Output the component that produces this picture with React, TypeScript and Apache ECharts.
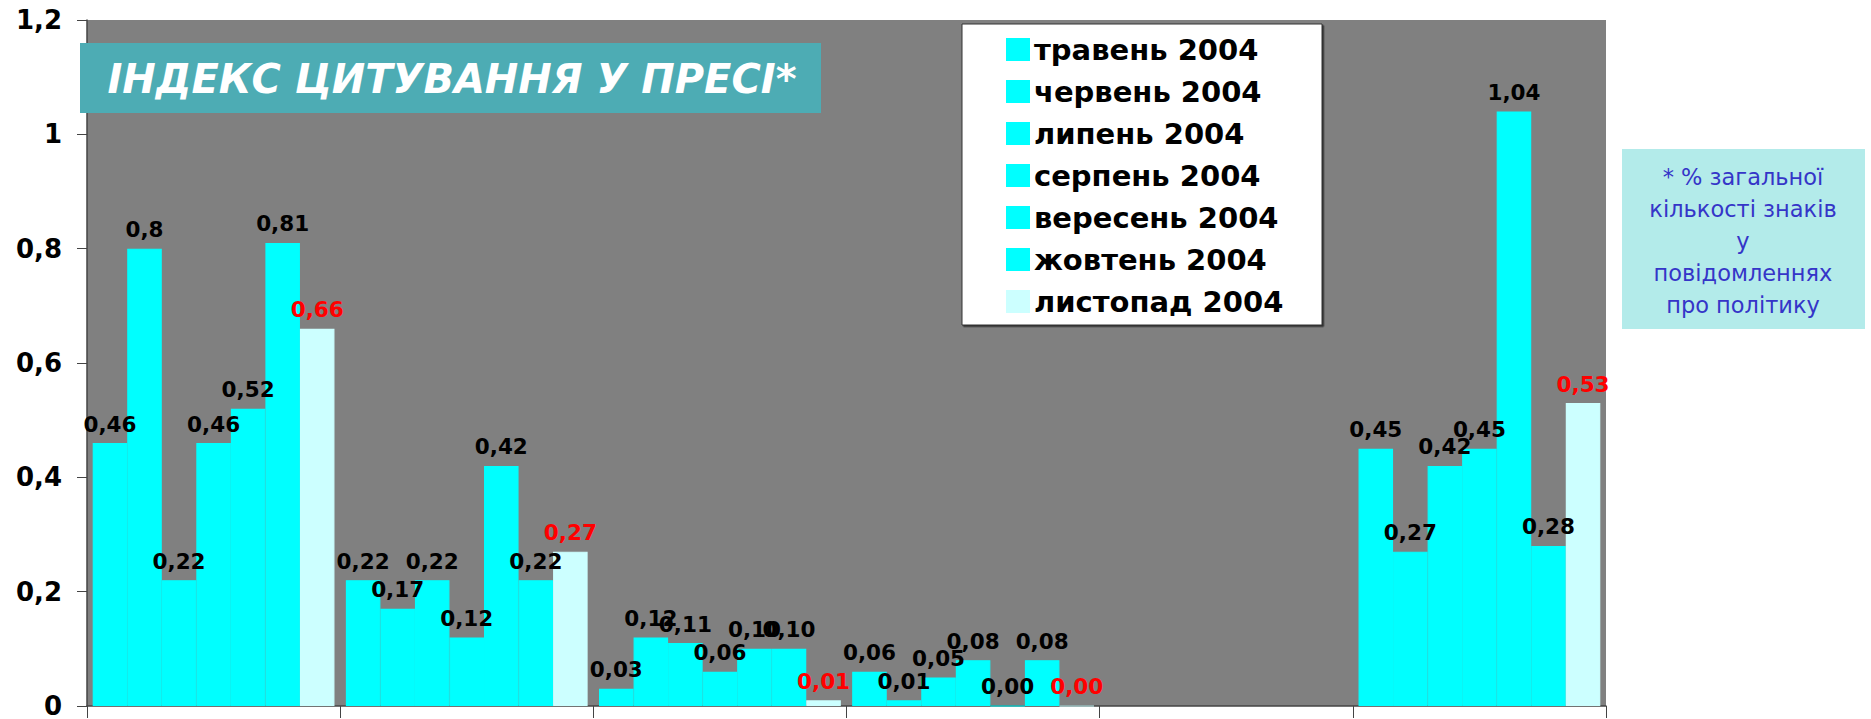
import React, { useEffect, useRef } from "react";
import * as echarts from "echarts";

const categories = ["1", "2", "3", "4", "5", "6"];
const seriesNames = [
  "травень 2004",
  "червень 2004",
  "липень 2004",
  "серпень 2004",
  "вересень 2004",
  "жовтень 2004",
  "листопад 2004",
];
const may = [0.46, 0.22, 0.03, 0.06, null, 0.45];
const june = [0.8, 0.17, 0.12, 0.01, null, 0.27];
const july = [0.22, 0.22, 0.11, 0.05, null, 0.42];
const august = [0.46, 0.12, 0.06, 0.08, null, 0.45];
const september = [0.52, 0.42, 0.1, 0.0, null, 1.04];
const october = [0.81, 0.22, 0.1, 0.08, null, 0.28];
const november = [0.66, 0.27, 0.01, 0.0, null, 0.53];
const twoDecimalGroups = [false, false, true, true, false, false];
const yTicks = { min: 0, max: 1.2, interval: 0.2 };
const titleText = "ІНДЕКС ЦИТУВАННЯ У ПРЕСІ*";
const noteLines = ["* % загальної", "кількості знаків", "у", "повідомленнях", "про політику"];

const allSeries = [may, june, july, august, september, october, november];
const FONT = "'DejaVu Sans', Verdana, sans-serif";

export default function App() {
  const ref = useRef<HTMLDivElement>(null);
  useEffect(() => {
    const chart = echarts.init(ref.current!, null, { renderer: "svg" });
    const fmt = (v: number, idx: number) => {
      const s = twoDecimalGroups[idx] ? v.toFixed(2) : String(v);
      return s.replace(".", ",");
    };
    chart.setOption({
      animation: false,
      grid: {
        left: 87,
        right: 265,
        top: 20,
        bottom: 13,
        show: true,
        backgroundColor: "#808080",
        borderWidth: 0,
      },
      legend: {
        orient: "vertical",
        left: 1006,
        top: 35,
        icon: "rect",
        itemWidth: 22,
        itemHeight: 21,
        itemGap: 13,
        padding: 0,
        selectedMode: false,
        data: seriesNames,
        textStyle: {
          fontFamily: FONT,
          fontWeight: "bold",
          fontSize: 29,
          color: "#000",
        },
        z: 110,
      },
      xAxis: {
        type: "category",
        data: categories,
        boundaryGap: true,
        axisLine: { show: true, lineStyle: { color: "#444", width: 1.5 } },
        axisTick: { show: true, alignWithLabel: false, length: 12, lineStyle: { color: "#444" } },
        axisLabel: { show: false },
        splitLine: { show: false },
      },
      yAxis: {
        type: "value",
        min: yTicks.min,
        max: yTicks.max,
        interval: yTicks.interval,
        axisLine: { show: true, lineStyle: { color: "#444", width: 1.5 } },
        axisTick: { show: true, length: 10, lineStyle: { color: "#444" } },
        splitLine: { show: false },
        axisLabel: {
          margin: 25,
          fontFamily: FONT,
          fontWeight: "bold",
          fontSize: 26,
          color: "#000",
          formatter: (v: number) => String(Math.round(v * 10) / 10).replace(".", ","),
        },
      },
      series: allSeries.map((data, i) => {
        const color = i === 6 ? "#CCFFFF" : "#00FFFF";
        return {
          type: "bar",
          name: seriesNames[i],
          data,
          barGap: "0%",
          barCategoryGap: "4.5%",
          itemStyle: { color, borderColor: color, borderWidth: 1.2 },
          label: {
            show: true,
            position: "top",
            distance: 8,
            fontFamily: FONT,
            fontWeight: "bold",
            fontSize: 21.5,
            color: i === 6 ? "#FF0000" : "#000",
            formatter: (p: any) => fmt(p.value, p.dataIndex),
          },
        };
      }),
      graphic: [
        {
          type: "rect",
          z: 100,
          shape: { x: 80, y: 43, width: 741, height: 70 },
          style: { fill: "#4DACB4" },
        },
        {
          type: "text",
          z: 101,
          x: 452,
          y: 79,
          style: {
            text: titleText,
            fill: "#FFFFFF",
            font: `italic bold 40px ${FONT}`,
            textAlign: "center",
            textVerticalAlign: "middle",
          },
        },
        {
          type: "rect",
          z: 100,
          shape: { x: 962, y: 24, width: 360, height: 301 },
          style: {
            fill: "#FFFFFF",
            stroke: "#333",
            lineWidth: 1,
            shadowColor: "#333",
            shadowOffsetX: 1.5,
            shadowOffsetY: 1.5,
            shadowBlur: 0,
          },
        },
        {
          type: "rect",
          z: 100,
          shape: { x: 1622, y: 149, width: 243, height: 180 },
          style: { fill: "#B3EBEA" },
        },
        {
          type: "text",
          z: 101,
          x: 1743,
          y: 241,
          style: {
            text: noteLines.join("\n"),
            fill: "#3535C8",
            font: `22.5px ${FONT}`,
            lineHeight: 32,
            textAlign: "center",
            textVerticalAlign: "middle",
          },
        },
      ],
    });
    return () => chart.dispose();
  }, []);
  return (
    <div
      ref={ref}
      style={{ position: "fixed", left: 0, top: 0, width: 1871, height: 719, background: "#fff" }}
    />
  );
}
